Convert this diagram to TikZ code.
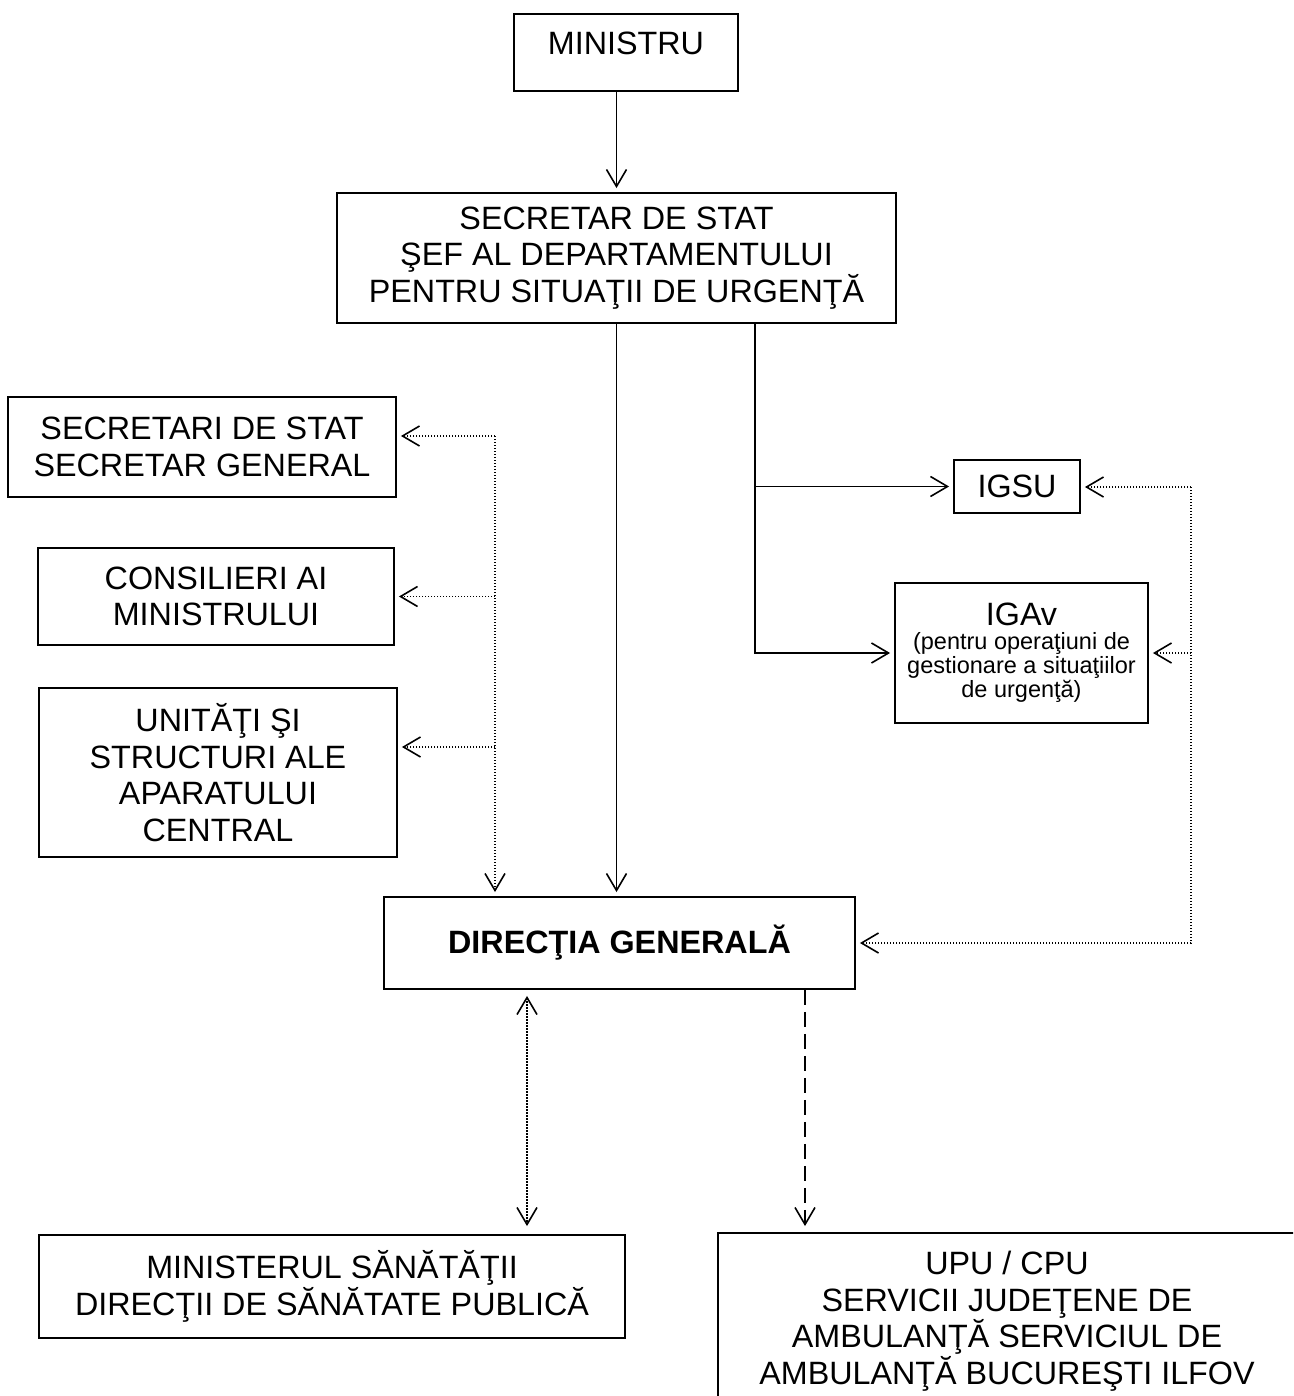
\documentclass[tikz,border=0pt]{standalone}
\usepackage{fontspec}
\setmainfont{Liberation Sans}
\usepackage{tikz}
\usetikzlibrary{arrows.meta}
\newcommand{\notefont}{\fontsize{23.5}{24}\selectfont}

\begin{document}
\begin{tikzpicture}[x=1pt, y=-1pt,
  font=\fontsize{32.3}{36.5}\selectfont,
  >={Straight Barb[length=17pt,width=20pt]},
  box/.style={draw, line width=1.9pt, align=center, inner sep=0pt},
  solidarr/.style={->, line width=1.6pt, shorten >=4pt},
  dotarr/.style={->, line width=1.6pt, dash pattern=on 1.4pt off 1.6pt, shorten >=4pt},
  dasharr/.style={->, line width=1.6pt, dash pattern=on 15pt off 7pt, shorten >=6pt}]
  \useasboundingbox (0,0) rectangle (1293,1396);
  \clip (0,0) rectangle (1293,1396);

  \node[box, anchor=base, text height=41pt, text depth=36pt, minimum width=224pt] (ministru) at (626,55) {MINISTRU};
  \node[box, minimum width=559pt, minimum height=130pt] (secretar) at (616.5,258)
    {SECRETAR DE STAT\\ŞEF AL DEPARTAMENTULUI\\PENTRU SITUAŢII DE URGENŢĂ};
  \node[box, minimum width=388pt, minimum height=100pt] (secretari) at (202,447) {SECRETARI DE STAT\\SECRETAR GENERAL};
  \node[box, minimum width=356pt, minimum height=97pt] (consilieri) at (216,596.5) {CONSILIERI AI\\MINISTRULUI};
  \node[box, minimum width=358pt, minimum height=169pt] (unitati) at (218,772.5)
    {UNITĂŢI ŞI\\STRUCTURI ALE\\APARATULUI\\CENTRAL};
  \node[box, minimum width=126pt, minimum height=53pt] (igsu) at (1017,486.5) {IGSU};
  \node[box, minimum width=253pt, minimum height=140pt] (igav) at (1021.5,653)
    {IGAv\\[-12.5pt]\notefont (pentru operaţiuni de\\[-12.5pt]\notefont gestionare a situaţiilor\\[-12.5pt]\notefont de urgenţă)};
  \node[box, minimum width=471pt, minimum height=92pt, font=\fontsize{32.3}{36.5}\selectfont\bfseries] (directia) at (619.5,943)
    {DIRECŢIA GENERALĂ};
  \node[box, minimum width=586pt, minimum height=103pt] (ministerul) at (332,1286.5)
    {MINISTERUL SĂNĂTĂŢII\\DIRECŢII DE SĂNĂTATE PUBLICĂ};
  \node[box, minimum width=578pt, minimum height=176pt] (upu) at (1007,1321)
    {UPU / CPU\\SERVICII JUDEŢENE DE\\AMBULANŢĂ SERVICIUL DE\\AMBULANŢĂ BUCUREŞTI ILFOV};

  % subordination
  \draw[solidarr] (ministru.south -| secretar.north) -- (secretar.north);
  \draw[solidarr] (secretar.south) -- (secretar.south |- directia.north);
  \coordinate (fork) at ([xshift=138.5pt]secretar.south);
  \draw[solidarr] (fork) |- (igsu.west);
  \draw[solidarr] (fork) |- (igav.west);

  % cooperation, left
  \coordinate (lbus) at (495,436);
  \coordinate (ua) at ([yshift=25.5pt]unitati.east);
  \draw[dotarr] (lbus) -- (lbus -| secretari.east);
  \draw[dotarr] (lbus) -- (lbus |- directia.north);
  \draw[dotarr] (lbus |- consilieri.east) -- (consilieri.east);
  \draw[dotarr] (lbus |- ua) -- (ua);

  % cooperation, right
  \coordinate (rbus) at (1191,487);
  \draw[dotarr] (rbus) -- (rbus -| igsu.east);
  \draw[dotarr] (rbus |- igav.east) -- (igav.east);
  \draw[dotarr] (rbus) |- (directia.east);

  % bottom
  \draw[dotarr, <->, shorten <=6pt, shorten >=8pt] ([xshift=-92.5pt]directia.south) -- ([xshift=-92.5pt]directia.south |- ministerul.north);
  \draw[dasharr] ([xshift=185.5pt]directia.south) -- ([xshift=185.5pt]directia.south |- upu.north);
\end{tikzpicture}
\end{document}
